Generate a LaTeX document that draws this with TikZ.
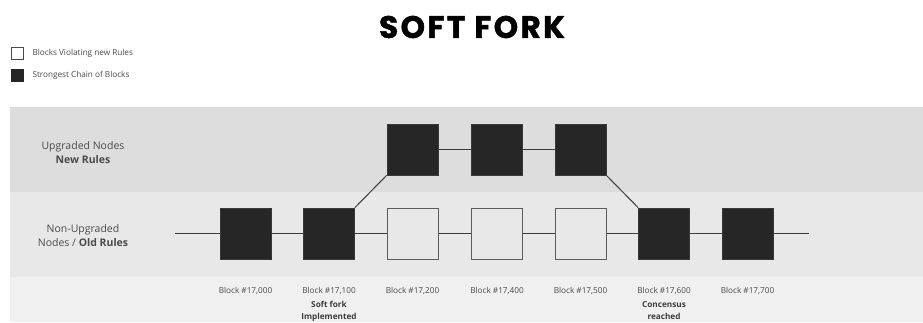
\documentclass[tikz,border=0pt]{standalone}
\usepackage{fontspec}
\setmainfont{Open Sans}
\newfontfamily\titlefont{Poppins}[BoldFeatures={FakeBold=1.5,LetterSpace=8}]
\definecolor{bandA}{HTML}{DDDDDD}
\definecolor{bandB}{HTML}{E8E8E8}
\definecolor{bandC}{HTML}{F0F0F0}
\definecolor{blk}{HTML}{262626}
\definecolor{txt}{HTML}{4A4A4A}
\tikzset{
  blackblock/.style={draw=blk!80!gray, fill=blk, minimum size=51pt, inner sep=0pt, line width=0.6pt},
  whiteblock/.style={draw=blk!75!white, fill=bandB, minimum size=51pt, inner sep=0pt, line width=1pt},
  link/.style={draw=blk!90!white, line width=1.3pt},
  blabel/.style={font=\fontsize{8.2}{9}\selectfont, text=txt, anchor=center},
  bnote/.style={font=\fontsize{8.2}{12}\selectfont\bfseries, text=blk!90!white, align=center, anchor=north},
  rowlabel/.style={font=\fontsize{10.5}{14}\selectfont, text=txt, align=center},
  legtext/.style={font=\fontsize{8.2}{9}\selectfont, text=txt, anchor=west},
}
\begin{document}
\begin{tikzpicture}[x=1pt,y=-1pt]
\useasboundingbox (0,0) rectangle (923,322);
\fill[white] (0,0) rectangle (923,322);
% bands
\fill[bandA] (10,107) rectangle (923,192);
\fill[bandB] (10,192) rectangle (923,277);
\fill[bandC] (10,277) rectangle (923,322);
% title
\node[font=\titlefont\fontsize{31}{32}\selectfont\bfseries, text=black] (title) at (472,27) {SOFT FORK};
% legend
\node[draw=txt, fill=white, minimum size=12pt, inner sep=0pt, line width=0.6pt] (legw) at (17,53) {};
\node[legtext] (legwt) at (29,53) {Blocks Violating new Rules};
\node[draw=blk, fill=blk, minimum size=12pt, inner sep=0pt] (legb) at (17,75) {};
\node[legtext] (legbt) at (29,75) {Strongest Chain of Blocks};
% row labels
\node[rowlabel] (upl) at (83,153) {Upgraded Nodes\\\textbf{New Rules}};
\node[rowlabel] (nupl) at (83,236) {Non-Upgraded\\Nodes / \textbf{Old Rules}};
% blocks
\node[blackblock] (b1) at (245.5,233.5) {};
\node[blackblock] (b2) at (329,233.5) {};
\node[whiteblock] (w1) at (412.5,233.5) {};
\node[whiteblock] (w2) at (497,233.5) {};
\node[whiteblock] (w3) at (580.5,233.5) {};
\node[blackblock] (b6) at (664,233.5) {};
\node[blackblock] (b7) at (747.5,233.5) {};
\node[blackblock] (u1) at (412.5,149.5) {};
\node[blackblock] (u2) at (497,149.5) {};
\node[blackblock] (u3) at (580.5,149.5) {};
\coordinate (start) at (175,233.5);
\coordinate (end) at (809,233.5);
% links
\draw[link] (start) -- (b1.west);
\draw[link] (b1) -- (b2);
\draw[link] (b2) -- (w1);
\draw[link] (w1) -- (w2);
\draw[link] (w2) -- (w3);
\draw[link] (w3) -- (b6);
\draw[link] (b6) -- (b7);
\draw[link] (b7.east) -- (end);
\draw[link] (u1) -- (u2);
\draw[link] (u2) -- (u3);
\draw[link, line width=1pt] (b2.north east) -- (u1.south west);
\draw[link, line width=1pt] (u3.south east) -- (b6.north west);
% block labels
\node[blabel] (l1) at (245.5,291) {Block \#17,000};
\node[blabel] (l2) at (329,291) {Block \#17,100};
\node[blabel] (l3) at (412.5,291) {Block \#17,200};
\node[blabel] (l4) at (497,291) {Block \#17,400};
\node[blabel] (l5) at (580.5,291) {Block \#17,500};
\node[blabel] (l6) at (664,291) {Block \#17,600};
\node[blabel] (l7) at (747.5,291) {Block \#17,700};
\node[bnote] (n2) at (329,298) {Soft fork\\Implemented};
\node[bnote] (n6) at (664,298) {Concensus\\reached};
\end{tikzpicture}
\end{document}
